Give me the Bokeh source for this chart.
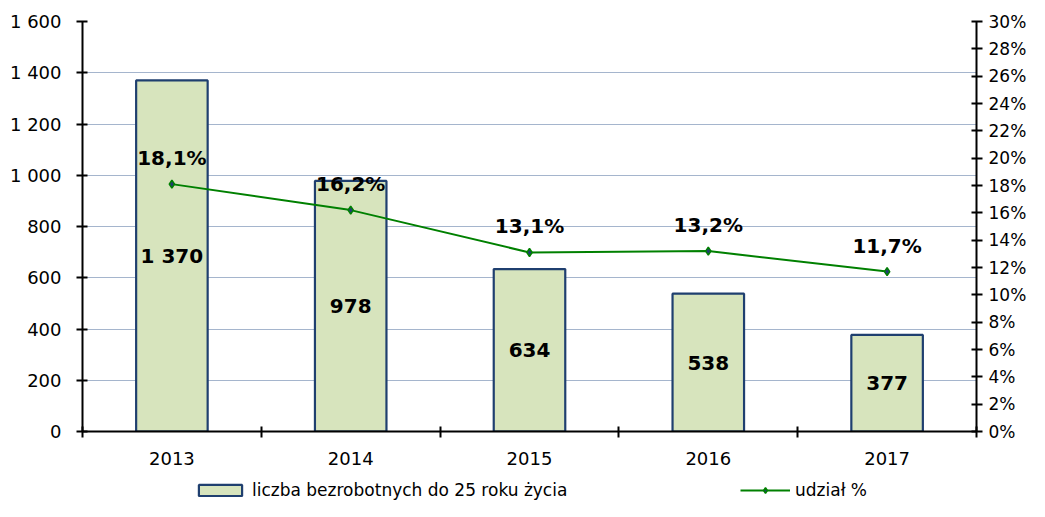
from bokeh.plotting import figure
from bokeh.layouts import column
from bokeh.models import (ColumnDataSource, Range1d, LinearAxis, FixedTicker,
                          Legend, LegendItem, LabelSet)
from bokeh.core.properties import value
from bokeh.embed import file_html
from bokeh.resources import INLINE

# ---- data ----
years = ["2013", "2014", "2015", "2016", "2017"]
counts = [1370, 978, 634, 538, 377]
shares = [18.1, 16.2, 13.1, 13.2, 11.7]
count_labels = ["1 370", "978", "634", "538", "377"]
share_labels = ["18,1%", "16,2%", "13,1%", "13,2%", "11,7%"]
left_ticks = [0, 200, 400, 600, 800, 1000, 1200, 1400, 1600]
left_tick_labels = ["0", "200", "400", "600", "800", "1 000", "1 200", "1 400", "1 600"]
right_ticks = [0, 2, 4, 6, 8, 10, 12, 14, 16, 18, 20, 22, 24, 26, 28, 30]
right_tick_labels = ["0%", "2%", "4%", "6%", "8%", "10%", "12%", "14%", "16%",
                     "18%", "20%", "22%", "24%", "26%", "28%", "30%"]
bar_name = "liczba bezrobotnych do 25 roku życia"
line_name = "udział %"

FONT = "DejaVu Sans"
BAR_FILL = "#d7e4bd"
BAR_LINE = "#1f3f6f"
GREEN = "#008000"

xs = [i + 0.5 for i in range(len(years))]
bounds = [i for i in range(len(years) + 1)]

src = ColumnDataSource(dict(x=xs, year=years, count=counts, half=[c / 2 for c in counts],
                            share=shares, clab=count_labels, slab=share_labels))

p = figure(width=1029, height=470, x_range=Range1d(0, len(years)), y_range=Range1d(0, 1600),
           output_backend="svg", toolbar_location=None,
           min_border_left=82, min_border_right=41, min_border_top=21, min_border_bottom=39)
p.extra_y_ranges = {"pct": Range1d(0, 30)}
p.outline_line_color = None

bar_style = dict(fill_color=BAR_FILL, line_color=BAR_LINE, line_width=2.2)
line_style = dict(line_color=GREEN, line_width=2)
pt_style = dict(marker="diamond", fill_color=BAR_LINE, line_color=GREEN, line_width=1.5)

bars = p.vbar(x="x", top="count", width=0.4, source=src, **bar_style)
ln = p.line(x="x", y="share", source=src, y_range_name="pct", **line_style)
pts = p.scatter(x="x", y="share", source=src, y_range_name="pct", size=8, **pt_style)

# grid
p.xgrid.visible = False
p.ygrid.ticker = FixedTicker(ticks=left_ticks)
p.ygrid.grid_line_color = "#4a6a9a"
p.ygrid.grid_line_dash = "1 1"
p.ygrid.grid_line_width = 1

# left axis
ya = p.yaxis[0]
ya.ticker = FixedTicker(ticks=left_ticks)
ya.major_label_overrides = {t: l for t, l in zip(left_ticks, left_tick_labels)}
# right axis
ra = LinearAxis(y_range_name="pct", ticker=FixedTicker(ticks=right_ticks),
                major_label_overrides={t: l for t, l in zip(right_ticks, right_tick_labels)})
p.add_layout(ra, "right")
for ax in (ya, ra):
    ax.axis_line_width = 2
    ax.axis_line_color = "black"
    ax.major_tick_line_width = 2
    ax.major_tick_line_color = "black"
    ax.major_tick_in = 5
    ax.major_tick_out = 6
    ax.minor_tick_line_color = None
    ax.major_label_text_font = FONT
    ax.major_label_text_color = "black"
ya.major_label_text_font_size = "18px"
ra.major_label_text_font_size = "17px"
ya.major_label_standoff = 15
ra.major_label_standoff = 6

# x axis
xa = p.xaxis[0]
xa.ticker = FixedTicker(ticks=xs, minor_ticks=bounds)
xa.major_label_overrides = {x: y for x, y in zip(xs, years)}
xa.axis_line_width = 2
xa.axis_line_color = "black"
xa.major_tick_in = 0
xa.major_tick_out = 0
xa.minor_tick_in = 5
xa.minor_tick_out = 6
xa.minor_tick_line_width = 2
xa.minor_tick_line_color = "black"
xa.major_label_text_font = FONT
xa.major_label_text_font_size = "18px"
xa.major_label_text_color = "black"
xa.major_label_standoff = 14

# data labels
p.add_layout(LabelSet(x="x", y="half", text="clab", source=src, text_align="center",
                      text_baseline="middle", text_font=value(FONT), text_font_style="bold",
                      text_font_size="20px", text_color="black"))
p.add_layout(LabelSet(x="x", y="share", text="slab", source=src, y_range_name="pct",
                      text_align="center", text_baseline="middle", y_offset=26,
                      text_font=value(FONT), text_font_style="bold",
                      text_font_size="20px", text_color="black"))

# ---- legend strip (its frame is aligned with the main plot's frame) ----
lf = figure(width=1029, height=31, x_range=Range1d(0, len(years)), y_range=Range1d(0, 1),
            x_axis_type=None, y_axis_type=None, output_backend="svg", toolbar_location=None,
            min_border=0)
lf.outline_line_color = None
lf.grid.visible = False
# legend proxies: one undrawable (NaN) row each, so only the legend swatches appear
nan = float("nan")
proxy = ColumnDataSource(dict(x=[nan], y=[nan]))
lbar = lf.vbar(x="x", top="y", width=0.4, source=proxy, **bar_style)
lln = lf.line(x="x", y="y", source=proxy, **line_style)
lpt = lf.scatter(x="x", y="y", source=proxy, size=6, **pt_style)

common = dict(orientation="horizontal", glyph_height=14, padding=0, margin=0,
              label_standoff=5, border_line_color=None, background_fill_alpha=0,
              label_text_font=FONT, label_text_font_size="17px", label_text_color="black")
leg1 = Legend(items=[LegendItem(label=bar_name, renderers=[lbar])], location=(111, 1),
              glyph_width=54, **common)
leg2 = Legend(items=[LegendItem(label=line_name, renderers=[lln, lpt])], location=(658, 1),
              glyph_width=50, **common)
lf.add_layout(leg1, "center")
lf.add_layout(leg2, "center")

layout = column(p, lf, spacing=0)
open("out.html", "w").write(file_html(layout, INLINE))
